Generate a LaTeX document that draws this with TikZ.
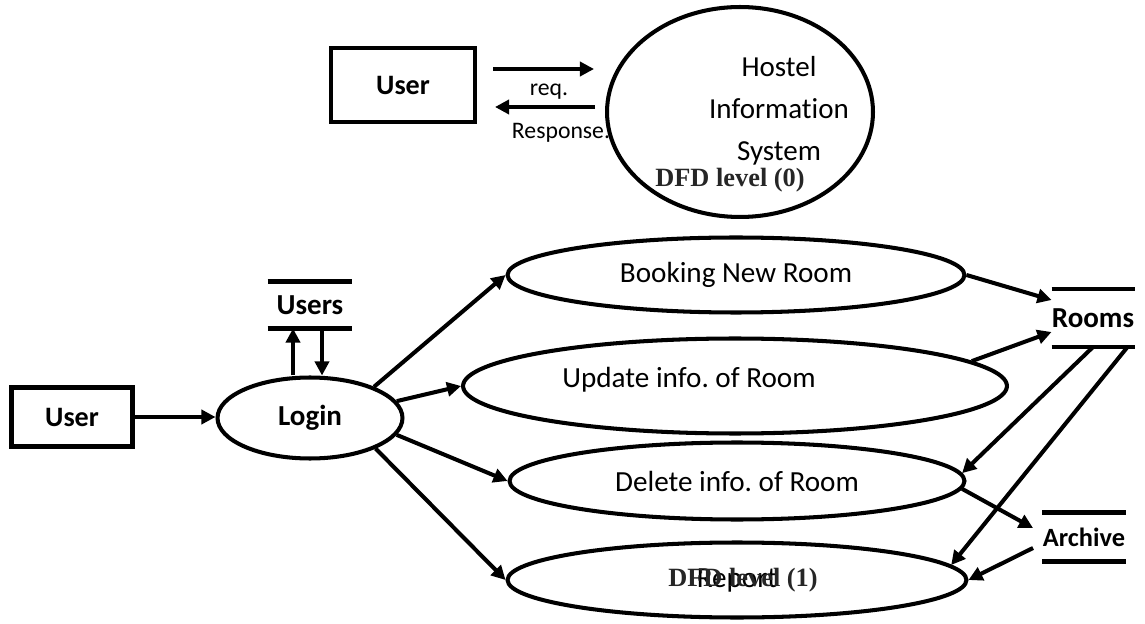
\documentclass[tikz,border=0pt]{standalone}
\usepackage{fontspec}
\setmainfont{Carlito}[Ligatures=NoCommon]
\newfontfamily\dfdfont{Liberation Serif}
\usetikzlibrary{shapes.geometric,arrows.meta}
\frenchspacing

\begin{document}
\begin{tikzpicture}[x=0.02cm, y=-0.02cm, line width=2.3pt,
    proc/.style={ellipse, draw, inner sep=0pt, font=\fontsize{16.6}{19}\selectfont},
    ent/.style={rectangle, draw, inner sep=0pt, font=\fontsize{16}{19}\selectfont\bfseries},
    store/.style={inner sep=0pt, outer sep=0pt, font=\fontsize{16.5}{19}\selectfont\bfseries},
    flow/.style={draw, -{Triangle[length=8pt, width=8pt]}},
    lbl/.style={inner sep=0pt, font=\fontsize{13.5}{15}\selectfont},
    dfd/.style={inner sep=0pt, text=black!85, font=\fontsize{15}{17}\selectfont\dfdfont\bfseries}
    ]
    \useasboundingbox (0,0) rectangle (1145,624);

    % DFD level 0
    \node[ent, minimum width=2.88cm, minimum height=1.48cm] (user0) at (403,85) {User};
    \node[proc, minimum width=5.32cm, minimum height=4.2cm] (his) at (740,112) {};
    \node[inner sep=0pt, align=center, font=\fontsize{16.5}{23.8}\selectfont] (histext) at (779,111) {Hostel\\Information\\System};
    \node[dfd] (dfd0) at (730,180) {DFD level (0)};
    \node[lbl] (req) at (549,92) {req.};
    \node[lbl] (resp) at (561,133) {Response.};
    \draw[flow, shorten <=0.32cm, shorten >=0.22cm] ([yshift=0.32cm]user0.east) -- ([yshift=0.32cm]user0.east -| his.west);
    \draw[flow, shorten <=0.2cm, shorten >=0.36cm] ([yshift=-0.44cm]user0.east -| his.west) -- ([yshift=-0.44cm]user0.east);

    % DFD level 1
    \node[ent, minimum width=2.42cm, minimum height=1.18cm] (user1) at (72,417) {User};
    \node[proc, font=\fontsize{16.5}{19}\selectfont\bfseries, minimum width=3.7cm, minimum height=1.62cm] (login) at (310,418) {Login};
    \node[store, minimum width=1.7cm, minimum height=0.94cm] (users) at (310,305) {Users};
    \draw (users.north west) -- (users.north east) (users.south west) -- (users.south east);

    % processes
    \node[proc, minimum width=9.14cm, minimum height=1.5cm] (book) at (736,275) {Booking New Room};
    \node[proc, minimum width=10.88cm, minimum height=1.9cm,
        label={[xshift=-0.92cm, yshift=0.12cm, font=\fontsize{16.6}{19}\selectfont]center:Update info. of Room}] (upd) at (735,386) {};
    \node[proc, minimum width=9.1cm, minimum height=1.54cm] (del) at (737,481) {Delete info. of Room};
    \node[proc, minimum width=9.18cm, minimum height=1.5cm] (rep) at (737,580) {Report};
    \node[dfd] (dfd1) at (743,580) {DFD level (1)};

    % data stores
    \node[store, minimum width=1.66cm, minimum height=1.16cm] (rooms) at (1093,318) {Rooms};
    \draw (rooms.north west) -- (rooms.north east) (rooms.south west) -- (rooms.south east);
    \node[store, font=\fontsize{15}{18}\selectfont\bfseries, minimum width=1.68cm, minimum height=0.98cm] (arch) at (1084,537) {Archive};
    \draw (arch.north west) -- (arch.north east) (arch.south west) -- (arch.south east);

    % flows
    \draw[flow] (user1.east) -- (user1.east -| login.west);
    \draw[flow] ([xshift=-0.34cm]login.north) -- ([xshift=-0.34cm]login.north |- users.south);
    \draw[flow] ([xshift=0.24cm]users.south) -- ([xshift=0.24cm]users.south |- login.north);
    \draw[flow] (login.26) -- (book.west);
    \draw[flow] (login.11) -- (upd.west);
    \draw[flow] (login.-11) -- (del.west);
    \draw[flow] (login.-25) -- (rep.west);
    \draw[flow] (book.east) -- ([yshift=0.36cm]rooms.west);
    \draw[flow] (upd.6) -- ([yshift=-0.28cm]rooms.west);
    \draw[flow] (rooms.south) -- (del.2);
    \draw[flow] ([xshift=-0.14cm]rooms.south east) -- (rep.4);
    \draw[flow] (del.-2) -- ([xshift=-0.18cm, yshift=0.18cm]arch.west);
    \draw[flow] ([xshift=-0.18cm, yshift=-0.22cm]arch.west) -- (rep.east);
\end{tikzpicture}
\end{document}
